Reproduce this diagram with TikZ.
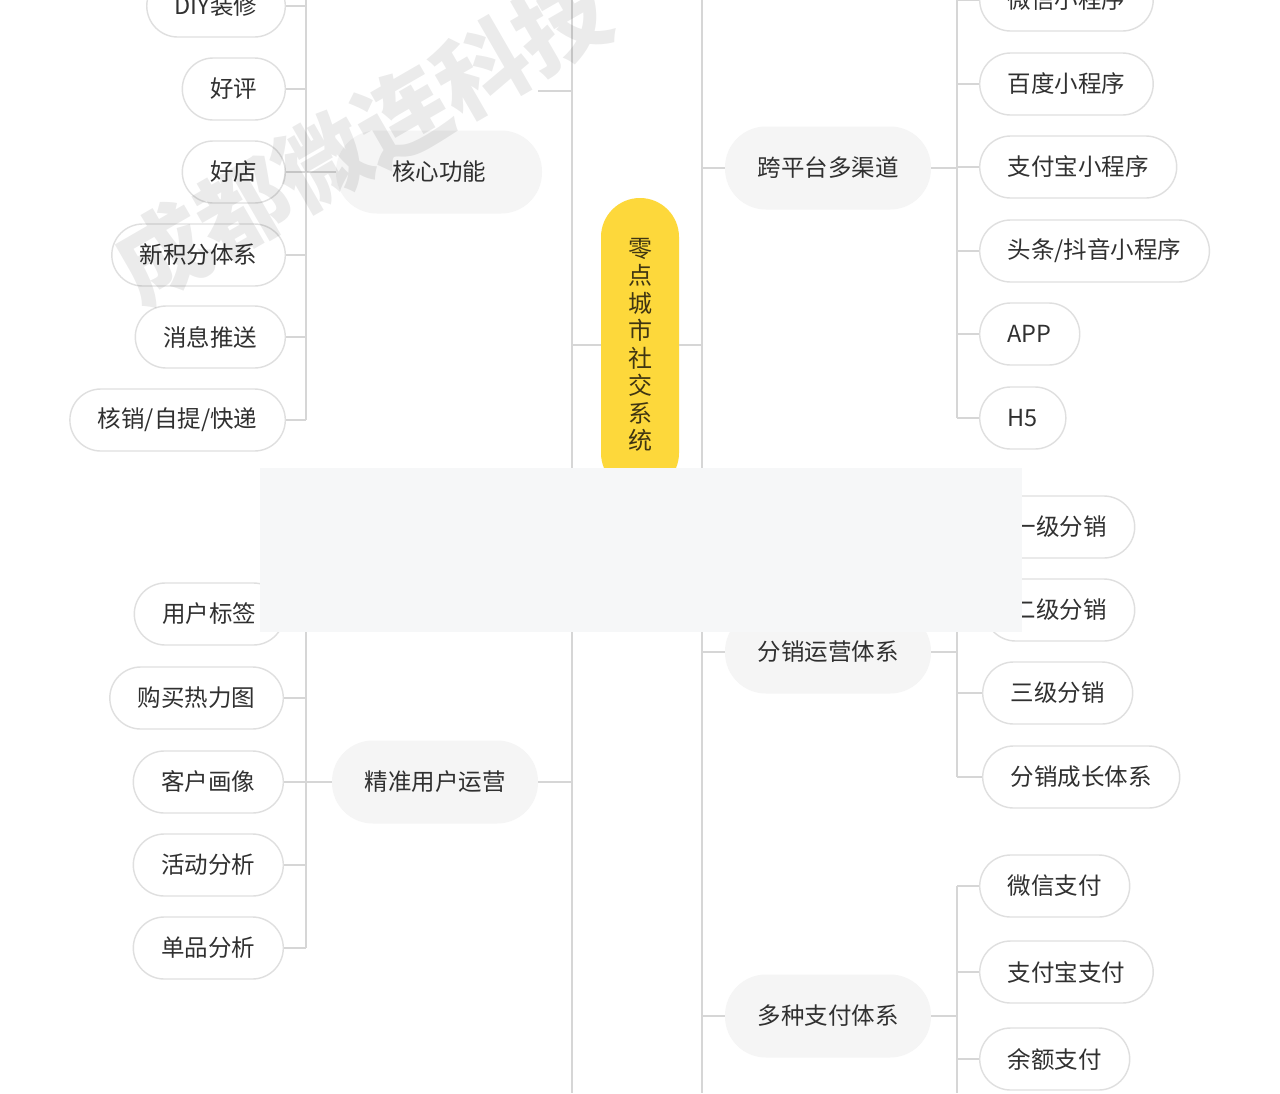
\documentclass[tikz,border=0pt]{standalone}
\usepackage{fontspec}
\setmainfont{Noto Sans CJK SC}
\usetikzlibrary{positioning}
\definecolor{linegray}{HTML}{D6D6D6}
\definecolor{leafborder}{HTML}{DFDFDF}
\definecolor{topicfill}{HTML}{F5F5F5}
\definecolor{rootyellow}{HTML}{FDD83B}
\definecolor{rootbrown}{HTML}{3F3512}
\definecolor{textgray}{HTML}{303030}
\definecolor{maskgray}{HTML}{F6F7F8}

\begin{document}
\begin{tikzpicture}[x=1pt, y=-1pt, font=\fontsize{23.5}{28}\selectfont, text=textgray,
    leaf/.style={draw=leafborder, line width=1.4pt, fill=white, rounded corners=31pt,
      minimum height=62pt, inner xsep=28pt, inner ysep=0pt},
    topic/.style={fill=topicfill, rounded corners=41pt, minimum height=83pt, minimum width=206pt},
    root/.style={fill=rootyellow, rounded corners=39pt, minimum width=78pt, minimum height=294pt,
      inner sep=0pt, align=center, font=\fontsize{24}{27.5}\selectfont, text=rootbrown},
    conn/.style={draw=linegray, line width=1.2pt}]
   \useasboundingbox (0,0) rectangle (1280,1093);
   \clip (0,0) rectangle (1280,1093);
   \fill[white] (0,0) rectangle (1280,1093);
   % trunks and branch lines
   \coordinate (ltTop) at (572,0);
   \coordinate (ltBot) at (572,1093);
   \coordinate (rtTop) at (702,0);
   \coordinate (rtBot) at (702,1093);
   \coordinate (lvA) at (306,0);
   \coordinate (lvB) at (306,614);
   \coordinate (rvA) at (957,0);
   \coordinate (rvB) at (957,527);
   \coordinate (rvC) at (957,886);
   \coordinate (coreJoin) at (538,91);
   \draw[conn] (ltTop) -- (ltBot);
   \draw[conn] (rtTop) -- (rtBot);
   \draw[conn] (lvA) -- (306,420);
   \draw[conn] (lvB) -- (306,948);
   \draw[conn] (rvA) -- (957,418);
   \draw[conn] (rvB) -- (957,777);
   \draw[conn] (rvC) -- (957,1093);
   \draw[conn] (coreJoin) -- (coreJoin -| ltTop);
   % root
   \node[root] (root) at (640,345) {零\\点\\城\\市\\社\\交\\系\\统};
   % main topics
   \begin{scope}[every node/.style={topic}]
    \node (core) at (439,172) {核心功能};
    \node (multi) at (828,168) {跨平台多渠道};
    \node (dist) at (828,652) {分销运营体系};
    \node (pay) at (828,1016) {多种支付体系};
    \node (user) at (435,782) {精准用户运营};
   \end{scope}
   % left leaves
   \begin{scope}[every node/.style={leaf, anchor=east}]
    \node (diy) at (286,6) {DIY装修};
    \node (haoping) at (286,89) {好评};
    \node (haodian) at (286,172) {好店};
    \node (jifen) at (286,255) {新积分体系};
    \node (tuisong) at (286,337) {消息推送};
    \node (hexiao) at (286,420) {核销/自提/快递};
    \node (biaoqian) at (285,614) {用户标签};
    \node (reli) at (284,698) {购买热力图};
    \node (huaxiang) at (284,782) {客户画像};
    \node (huodong) at (284,865) {活动分析};
    \node (danpin) at (284,948) {单品分析};
   \end{scope}
   % right leaves
   \begin{scope}[every node/.style={leaf, anchor=west}]
    \node (weixin) at (979,0) {微信小程序};
    \node (baidu) at (979,84) {百度小程序};
    \node (alipay) at (979,167) {支付宝小程序};
    \node (douyin) at (979,251) {头条/抖音小程序};
    \node (app) at (979,334) {APP};
    \node (hfive) at (979,418) {H5};
    \node (yiji) at (984,527) {一级分销};
    \node (erji) at (984,610) {二级分销};
    \node (sanji) at (982,693) {三级分销};
    \node (chengzhang) at (982,777) {分销成长体系};
    \node (wxpay) at (979,886) {微信支付};
    \node (alipay2) at (979,972) {支付宝支付};
    \node (yue) at (979,1059) {余额支付};
   \end{scope}
   % connectors
   \begin{scope}[every path/.style={conn}]
    \draw (root.west) -- (root.west -| ltTop);
    \draw (root.east) -- (root.east -| rtTop);
    \draw (haodian.east) -- (core.west);
    \draw (user.west) -- (user.west -| lvA);
    \draw (user.east) -- (user.east -| ltTop);
    \draw (multi.west) -- (multi.west -| rtTop);
    \draw (multi.east) -- (multi.east -| rvA);
    \draw (dist.west) -- (dist.west -| rtTop);
    \draw (dist.east) -- (dist.east -| rvA);
    \draw (pay.west) -- (pay.west -| rtTop);
    \draw (pay.east) -- (pay.east -| rvA);
    \foreach \n in {diy,haoping,jifen,tuisong,hexiao,biaoqian,reli,huaxiang,huodong,danpin}
      \draw (\n.east) -- (\n.east -| lvA);
    \foreach \n in {weixin,baidu,alipay,douyin,app,hfive,yiji,erji,sanji,chengzhang,wxpay,alipay2,yue}
      \draw (\n.west) -- (\n.west -| rvA);
   \end{scope}
   % grey cover box
   \fill[maskgray] (260,468) rectangle (1022,632);
   % watermark
   \node[rotate=30, text=black, opacity=0.08, font=\fontsize{92}{92}\selectfont\bfseries] (mark) at (362,138) {成都微连科技};
\end{tikzpicture}
\end{document}
